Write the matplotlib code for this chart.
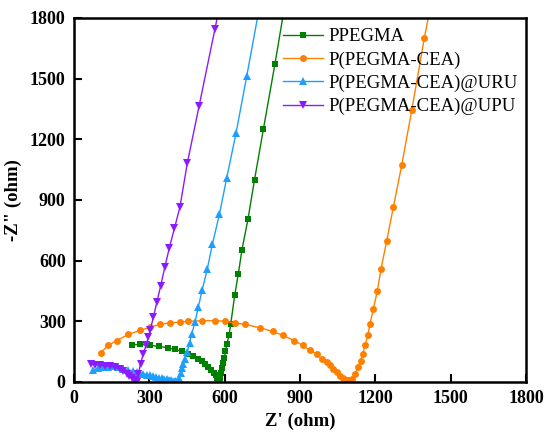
import matplotlib
matplotlib.use("Agg")
import matplotlib.pyplot as plt

plt.rcParams['font.family'] = ['Liberation Serif', 'DejaVu Serif']

# Nyquist data: Z' (real) and -Z'' (imaginary), in ohm
ppegma_re = [230, 263, 303, 340, 375, 402, 429, 455, 475, 492, 508, 522, 535, 547,
             556, 564, 570, 575, 578, 581, 585, 590, 594, 599, 603, 609, 617, 624,
             640, 654, 669, 693, 719, 754, 800, 835]
ppegma_im = [184, 186, 181, 176, 169, 161, 153, 140, 128, 115, 102, 88, 74, 60,
             46, 33, 20, 8, 3, 20, 45, 70, 92, 120, 151, 189, 230, 285,
             430, 532, 655, 806, 1001, 1249, 1571, 1830]

cea_re = [106, 137, 170, 216, 263, 303, 342, 382, 422, 455, 508, 561, 600, 640,
          681, 741, 791, 834, 876, 911, 940, 967, 986, 1006, 1020, 1033, 1046,
          1059, 1072, 1086, 1096, 1106, 1119, 1132, 1142, 1150, 1159, 1170, 1179,
          1192, 1208, 1223, 1245, 1272, 1305, 1345, 1395, 1420]
cea_im = [145, 181, 205, 235, 255, 271, 285, 293, 296, 300, 303, 304, 300, 292,
          285, 268, 250, 230, 205, 181, 156, 140, 115, 98, 82, 65, 48,
          32, 20, 11, 8, 16, 41, 73, 106, 140, 181, 230, 288,
          362, 450, 561, 696, 866, 1072, 1344, 1700, 1860]

uru_re = [77, 97, 116, 136, 156, 176, 196, 216, 236, 250, 263, 276, 289, 302, 316,
          328, 340, 350, 360, 370, 380, 388, 395, 402, 408, 415, 420, 425, 430,
          435, 442, 451, 460, 469, 482, 495, 510, 531, 551, 579, 608, 645, 688, 735]
uru_im = [57, 70, 73, 76, 77, 72, 65, 60, 53, 49, 45, 41, 37, 33, 30,
          26, 22, 19, 16, 13, 10, 8, 6, 4, 3, 2, 20, 45, 70,
          90, 115, 148, 192, 239, 296, 370, 453, 560, 681, 829, 1008, 1229, 1513, 1830]

upu_re = [66, 85, 104, 123, 143, 163, 183, 197, 210, 220, 230, 240, 248, 252,
          256, 265, 276, 287, 296, 303, 316, 330, 345, 362, 380, 400, 422, 451,
          498, 561, 575]
upu_im = [87, 85, 82, 80, 77, 72, 65, 55, 40, 30, 21, 11, 4, 2,
          40, 90, 140, 181, 222, 255, 320, 395, 475, 570, 665, 760, 866, 1081,
          1364, 1744, 1830]

labels = ['PPEGMA', 'P(PEGMA-CEA)', 'P(PEGMA-CEA)@URU', 'P(PEGMA-CEA)@UPU']
colors = ['#008000', '#ff8000', '#1e9fff', '#8b1aff']
markers = ['s', 'o', '^', 'v']
msizes = [4.5, 5.0, 5.5, 6.0]
x_ticks = [0, 300, 600, 900, 1200, 1500, 1800]
y_ticks = [0, 300, 600, 900, 1200, 1500, 1800]

fig = plt.figure(figsize=(5.47, 4.34), dpi=100)
ax = fig.add_axes([74 / 547, 1 - 382 / 434, 452 / 547, 364 / 434])

series = [(ppegma_re, ppegma_im), (cea_re, cea_im), (uru_re, uru_im), (upu_re, upu_im)]
for (re, im), lab, c, m, ms in zip(series, labels, colors, markers, msizes):
    ax.plot(re, im, color=c, marker=m, markersize=ms, linewidth=1.0,
            markeredgewidth=0, label=lab)

ax.set_xlim(0, 1800)
ax.set_ylim(0, 1800)
ax.set_xticks(x_ticks)
ax.set_yticks(y_ticks)
ax.tick_params(direction='in', length=6, width=1.5, labelsize=13, pad=6)
for lbl in ax.get_xticklabels() + ax.get_yticklabels():
    lbl.set_fontweight('bold')
for sp in ax.spines.values():
    sp.set_linewidth(1.8)

ax.set_xlabel("Z' (ohm)", fontsize=13.5, fontweight='bold', labelpad=4)
ax.set_ylabel('-Z" (ohm)', fontsize=13.5, fontweight='bold', labelpad=6)

ax.legend(loc='upper left', bbox_to_anchor=(0.434, 1.008), frameon=False,
          fontsize=13.5, handlelength=2.1, handletextpad=0.3,
          labelspacing=0.32, borderaxespad=0.3)

fig.savefig('out.png', dpi=100)
